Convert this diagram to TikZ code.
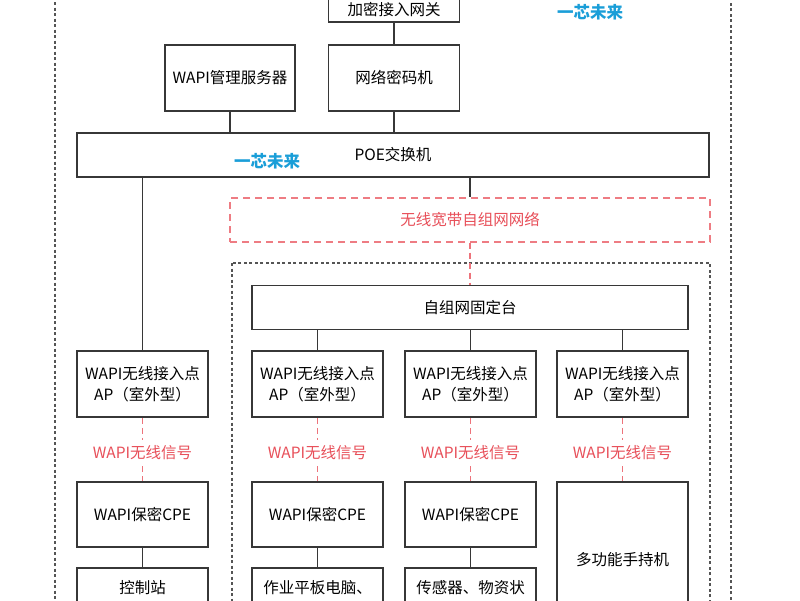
\documentclass[tikz,border=0pt]{standalone}
\usepackage{fontspec}
\setmainfont{Noto Sans CJK SC}
\usetikzlibrary{positioning,calc}
\definecolor{wred}{RGB}{232,80,90}
\definecolor{wcyan}{RGB}{26,158,216}
\definecolor{wline}{RGB}{55,55,55}

\begin{document}
\begin{tikzpicture}[x=1pt, y=-1pt,
  every node/.style={font=\fontsize{15.5}{21}\selectfont},
  blk/.style={draw=wline, line width=1.5pt, align=center, inner sep=2pt},
  wire/.style={draw=wline, line width=1.5pt},
  radio/.style={draw=wred!80, line width=1.2pt, dash pattern=on 6pt off 4pt},
  sig/.style={text=wred, inner sep=6pt},
  brand/.style={text=wcyan, font=\fontsize{16.5}{18}\selectfont\bfseries},
  frame/.style={draw=wline!85, line width=1.5pt, dash pattern=on 3pt off 2.5pt}]

\clip (0,0) rectangle (800,600);
\fill[white] (0,0) rectangle (800,600);

% dashed frames
\draw[frame] (55,-20) rectangle (731,620);
\draw[frame] (232,263) rectangle (710,620);

% core
\node[blk, minimum width=131, minimum height=24, inner sep=1pt] (gw) at (394,10) {加密接入网关};
\node[blk, minimum width=130, minimum height=66] (srv) at (230,78) {WAPI管理服务器};
\node[blk, minimum width=131, minimum height=66] (enc) at (394,78) {网络密码机};
\node[blk, minimum width=632, minimum height=44] (poe) at (393,155) {POE交换机};

\node[brand] (logo-1) at (590,12) {一芯未来};
\node[brand] (logo-2) at (267,161) {一芯未来};

% mesh
\node[draw=wred!75, line width=1.4pt, dash pattern=on 7pt off 5pt, text=wred,
  minimum width=480, minimum height=44] (mesh) at (470,220) {无线宽带自组网网络};
\node[blk, minimum width=436, minimum height=44] (fix) at (470,307.5) {自组网固定台};

% access points
\foreach \x [count=\i] in {142.5,317.5,470.5,622.5}
  \node[blk, minimum width=131, minimum height=66] (ap-\i) at (\x,384) {WAPI无线接入点\\AP（室外型）};

\foreach \x/\t [count=\i] in {142.5/WAPI保密CPE,317.5/WAPI保密CPE,470.5/WAPI保密CPE}
  \node[blk, minimum width=131, minimum height=65] (cpe-\i) at (\x,514.5) {\t};
\node[blk, minimum width=131, minimum height=156] (cpe-4) at (622.5,560) {多功能手持机};

\foreach \x/\t [count=\i] in {142.5/控制站,317.5/作业平板电脑、,470.5/传感器、物资状}
  \node[blk, minimum width=131, minimum height=40] (end-\i) at (\x,588) {\t};

\foreach \x [count=\i] in {142.5,317.5,470.5,622.5}
  \node[sig] (sig-\i) at (\x,453) {WAPI无线信号};

% links
\draw[wire] (gw) -- (enc);
\draw[wire] (srv.south) -- (srv.south |- poe.north);
\draw[wire] (enc) -- (enc.south |- poe.north);
\draw[wire] (poe.south -| ap-1.north) -- (ap-1);
\draw[wire] (poe.south -| mesh.north) -- (mesh);
\draw[radio] (mesh) -- (fix);

\foreach \i in {2,...,4}
  \draw[wire] (fix.south -| ap-\i.north) -- (ap-\i);

\foreach \i in {1,...,4} {
  \draw[radio] (ap-\i) -- (sig-\i);
  \draw[radio] (sig-\i) -- (sig-\i |- cpe-\i.north);
}

\foreach \i in {1,...,3}
  \draw[wire] (cpe-\i) -- (end-\i);

\end{tikzpicture}
\end{document}
